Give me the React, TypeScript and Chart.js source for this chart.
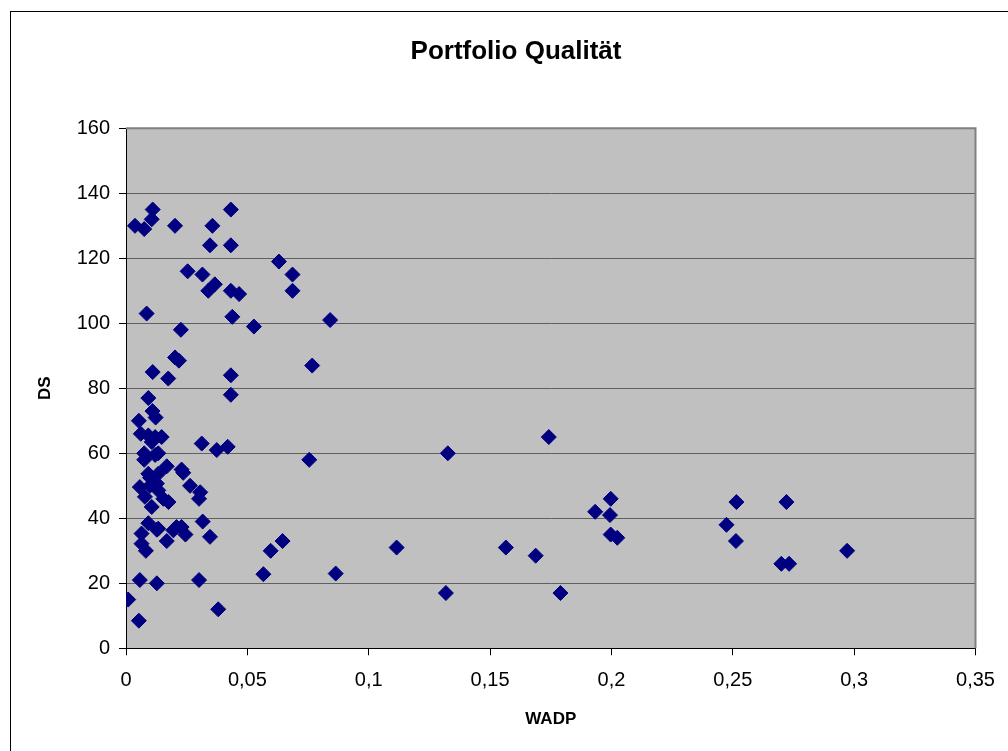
import React, { useEffect, useRef } from "react";
import { Chart, registerables } from "chart.js";

Chart.register(...registerables);

const chartTitle = "Portfolio Qualität";
const xAxisTitle = "WADP";
const yAxisTitle = "DS";

const xTickLabels = ["0", "0,05", "0,1", "0,15", "0,2", "0,25", "0,3", "0,35"];
const yTickLabels = ["0", "20", "40", "60", "80", "100", "120", "140", "160"];

const wadpValues = [
  0.0037, 0.0075, 0.0106, 0.011, 0.0202, 0.0356, 0.0432, 0.0346, 0.0432, 0.0254,
  0.0315, 0.0366, 0.0339, 0.0432, 0.0466, 0.0085, 0.0226, 0.0438, 0.063, 0.0686,
  0.0686, 0.0527, 0.0841, 0.0767, 0.0432, 0.0432,
  0.0202, 0.0218, 0.011, 0.0174, 0.0092, 0.0109, 0.0122, 0.0053, 0.0061, 0.0092,
  0.012, 0.0147, 0.0312, 0.0374, 0.0419, 0.0755, 0.0075, 0.0075, 0.012, 0.0133,
  0.0092, 0.0168, 0.0229, 0.0099, 0.0133, 0.0236, 0.0106,
  0.0057, 0.0099, 0.0127, 0.0078, 0.0106, 0.0175, 0.0154, 0.0133, 0.0264, 0.0306,
  0.0301,
  0.0092, 0.0127, 0.0064, 0.0316, 0.0195, 0.0229, 0.0245, 0.0168, 0.0346, 0.0064,
  0.0082, 0.0057, 0.0127, 0.0301, 0.0009, 0.0053, 0.038, 0.0596, 0.0645, 0.0566,
  0.0864, 0.0133, 0.0208,
  0.1115, 0.1326, 0.1318, 0.1742, 0.1565, 0.1688, 0.179, 0.1933, 0.1997, 0.1994,
  0.1997, 0.2024, 0.2474, 0.2515, 0.2513, 0.27, 0.2721, 0.2732, 0.2971,
];

const dsValues = [
  130, 129, 132, 135, 130, 130, 135, 124, 124, 116,
  115, 112, 110, 110, 109, 103, 98, 102, 119, 115,
  110, 99, 101, 87, 84, 78,
  89.5, 88.5, 85, 83, 77, 73, 71, 70, 66, 65.5,
  65, 65, 63, 61, 62, 58, 60, 58, 59.5, 60,
  53.7, 56, 55, 52.5, 53.7, 54, 63.5,
  49.6, 50, 50.7, 46.6, 43.5, 45, 46, 48.6, 50, 48,
  46,
  38.5, 36.5, 35.3, 39, 36.3, 37.3, 35, 33, 34.3, 32.2,
  30, 21, 20, 21, 15, 8.5, 12, 30, 33, 22.8,
  23, 36.8, 37.3,
  31, 60, 17, 65, 31, 28.5, 17, 42, 46, 41,
  35, 34, 38, 45, 33, 26, 45, 26, 30,
];

const FONT = "'Liberation Sans', Arial, Helvetica, sans-serif";

export default function App() {
  const canvasRef = useRef<HTMLCanvasElement | null>(null);

  useEffect(() => {
    const canvas = canvasRef.current;
    if (!canvas) return;

    const plotDecor = {
      id: "plotDecor",
      beforeDraw(chart: any) {
        const { ctx, chartArea } = chart;
        ctx.save();
        ctx.fillStyle = "#ffffff";
        ctx.fillRect(0, 0, chart.width, chart.height);
        ctx.fillStyle = "#C0C0C0";
        ctx.fillRect(
          chartArea.left,
          chartArea.top,
          chartArea.right - chartArea.left,
          chartArea.bottom - chartArea.top
        );
        ctx.strokeStyle = "#000000";
        ctx.lineWidth = 1;
        ctx.strokeRect(10.5, 11.5, 1100, 800);
        ctx.restore();
      },
      beforeDatasetsDraw(chart: any) {
        const { ctx, chartArea } = chart;
        ctx.save();
        ctx.strokeStyle = "#808080";
        ctx.lineWidth = 2;
        ctx.beginPath();
        ctx.moveTo(chartArea.left, chartArea.top);
        ctx.lineTo(chartArea.right, chartArea.top);
        ctx.lineTo(chartArea.right, chartArea.bottom);
        ctx.stroke();
        ctx.restore();
      },
    };

    const points = wadpValues.map((x, i) => ({ x, y: dsValues[i] }));

    const chart = new Chart(canvas, {
      type: "scatter",
      data: {
        datasets: [
          {
            label: yAxisTitle,
            data: points,
            pointStyle: "rectRot",
            pointRadius: 7.5,
            pointHoverRadius: 7.5,
            backgroundColor: "#000080",
            borderColor: "#000080",
            borderWidth: 1,
          },
        ],
      },
      options: {
        animation: false,
        responsive: false,
        maintainAspectRatio: false,
        devicePixelRatio: 1,
        layout: { padding: { left: 24, right: 0, top: 0, bottom: 0 } },
        plugins: {
          legend: { display: false },
          tooltip: { enabled: false },
          title: {
            display: true,
            text: chartTitle,
            color: "#000000",
            font: { family: FONT, size: 26, weight: "bold" },
            padding: { top: 36.4, bottom: 60.7 },
          },
        },
        scales: {
          x: {
            type: "linear",
            min: 0,
            max: 0.35,
            afterFit: (scale: any) => {
              scale.height = 751 - 648.3;
            },
            ticks: {
              stepSize: 0.05,
              color: "#000000",
              font: { family: FONT, size: 20 },
              padding: 13,
              maxRotation: 0,
              callback: (_v: any, i: number) => xTickLabels[i],
            },
            grid: {
              display: true,
              drawOnChartArea: false,
              drawTicks: true,
              tickLength: 7,
              tickColor: "#000000",
            },
            border: { display: true, color: "#000000", width: 1 },
            title: {
              display: true,
              text: xAxisTitle,
              color: "#000000",
              font: { family: FONT, size: 17, weight: "bold" },
              padding: { top: 0, bottom: 21.8 },
            },
          },
          y: {
            type: "linear",
            min: 0,
            max: 160,
            afterFit: (scale: any) => {
              scale.width = 102;
            },
            ticks: {
              stepSize: 20,
              color: "#000000",
              font: { family: FONT, size: 20 },
              padding: 9,
              callback: (_v: any, i: number) => yTickLabels[i],
            },
            grid: {
              color: "#606060",
              lineWidth: 1,
              tickLength: 7,
              tickColor: "#000000",
            },
            border: { display: true, color: "#000000", width: 1 },
            title: {
              display: true,
              text: yAxisTitle,
              color: "#000000",
              font: { family: FONT, size: 17, weight: "bold" },
              padding: { top: 10.8, bottom: 0 },
            },
          },
          yRightSpace: {
            type: "linear",
            position: "right",
            display: true,
            min: 0,
            max: 1,
            afterFit: (scale: any) => {
              scale.width = 32.5;
            },
            ticks: { display: false },
            grid: { display: false },
            border: { display: false },
          },
        },
      },
      plugins: [plotDecor],
    });

    return () => {
      chart.destroy();
    };
  }, []);

  return (
    <canvas
      ref={canvasRef}
      width={1008}
      height={751}
      style={{
        position: "fixed",
        left: 0,
        top: 0,
        width: "1008px",
        height: "751px",
        display: "block",
        background: "#ffffff",
      }}
    />
  );
}
